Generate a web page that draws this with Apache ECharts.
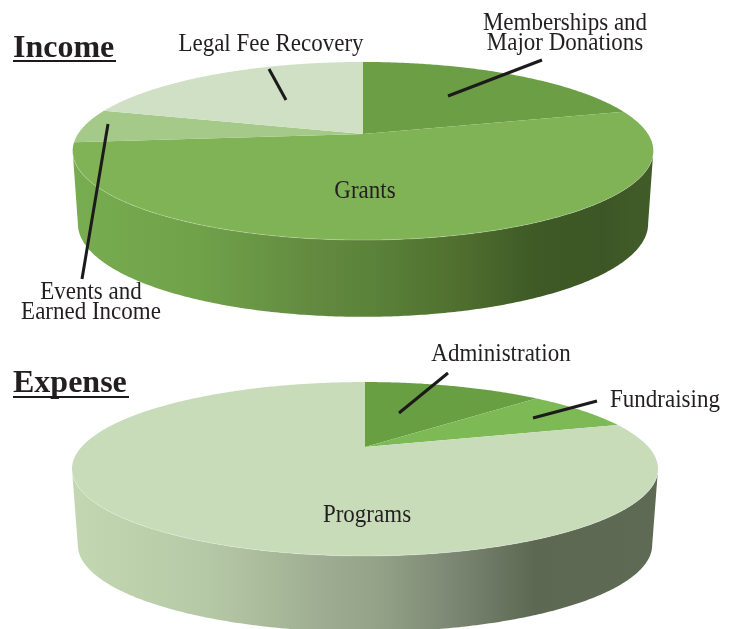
<!DOCTYPE html>
<html>
<head>
<meta charset="utf-8">
<title>Income and Expense</title>
<style>
  html, body { margin: 0; padding: 0; background: #fff; }
  #main { width: 738px; height: 629px; }
</style>
<script src="https://cdn.jsdelivr.net/npm/echarts@6/dist/echarts.min.js"></script>
</head>
<body>
<div id="main"></div>
<script>
// values in percent, clockwise from 12 o'clock
const incomeCategories = ['Memberships and Major Donations', 'Grants', 'Events and Earned Income', 'Legal Fee Recovery'];
const incomeValues = [20.6, 52.9, 6.1, 20.4];
const incomeColors = ['#6b9e45', '#80b355', '#a4c989', '#cfe0c4'];

const expenseCategories = ['Administration', 'Fundraising', 'Programs'];
const expenseValues = [12.6, 7.7, 79.7];
const expenseColors = ['#689f42', '#7dba55', '#c8dcba'];

const FONT = '"Liberation Serif", serif';
const INK = '#231f20';

// apex = where the slices meet, a/b/k = the perspective of the disc, wall* = how the rim hangs below it
const incomeDisc = {
  apex: [363, 134], a: 285, b: 85.8, k: 0.191, wallX: 0.982, wallY: 1.045, wallDrop: 72,
  wallStops: [[0, '#78ac50'], [0.22, '#6fa149'], [0.42, '#62893f'], [0.52, '#5a8239'], [0.66, '#50702f'], [0.8, '#3f5a26'], [0.92, '#3d5625'], [1, '#415c29']]
};
const expenseDisc = {
  apex: [365, 447], a: 283.5, b: 81.4, k: 0.253, wallX: 0.98, wallY: 1, wallDrop: 76,
  wallStops: [[0, '#c2d6b1'], [0.22, '#b6c9a6'], [0.42, '#9fae92'], [0.52, '#94a388'], [0.66, '#7b8672'], [0.8, '#5d6853'], [1, '#5f6a55']]
};

function discPoint(disc, angle, onWall) {
  const X = Math.sin(angle), Y = -Math.cos(angle);
  const d = 1 - disc.k * Y;
  const sx = disc.a * X / d, sy = disc.b * Y / d;
  if (onWall) {
    return [disc.apex[0] + sx * disc.wallX, disc.apex[1] + sy * disc.wallY + disc.wallDrop];
  }
  return [disc.apex[0] + sx, disc.apex[1] + sy];
}

function arc(disc, from, to, onWall) {
  const pts = [];
  const n = Math.max(2, Math.ceil((to - from) / 0.01));
  for (let i = 0; i <= n; i++) {
    pts.push(discPoint(disc, from + (to - from) * i / n, onWall));
  }
  return pts;
}

function sliceData(values) {
  const total = values.reduce((s, v) => s + v, 0);
  let run = 0;
  return values.map(v => {
    const start = run / total * Math.PI * 2;
    run += v;
    return [start, run / total * Math.PI * 2, v];
  });
}

function discSeries(name, values, colors, disc) {
  // the rim only shows between the two widest points of the ellipse
  const frontFrom = Math.PI - Math.acos(disc.k);
  const frontTo = Math.PI + Math.acos(disc.k);
  const wallFill = {
    type: 'linear', x: disc.apex[0] - disc.a, y: 0, x2: disc.apex[0] + disc.a, y2: 0, global: true,
    colorStops: disc.wallStops.map(s => ({ offset: s[0], color: s[1] }))
  };
  return {
    type: 'custom',
    name: name,
    coordinateSystem: 'none',
    silent: true,
    data: sliceData(values),
    renderItem: function (params, api) {
      const start = api.value(0), end = api.value(1);
      const children = [];
      const wFrom = Math.max(start, frontFrom), wTo = Math.min(end, frontTo);
      if (wTo > wFrom) {
        const top = arc(disc, wFrom, wTo, false);
        const bottom = arc(disc, wFrom, wTo, true).reverse();
        children.push({ type: 'polygon', shape: { points: top.concat(bottom) }, style: { fill: wallFill } });
      }
      children.push({
        type: 'polygon',
        shape: { points: [disc.apex].concat(arc(disc, start, end, false)) },
        style: { fill: colors[params.dataIndex] }
      });
      if (wTo > wFrom) {
        // faint light edge where the top meets the rim
        children.push({
          type: 'polyline',
          shape: { points: arc(disc, wFrom, wTo, false) },
          style: { stroke: 'rgba(255,255,255,0.22)', fill: 'none', lineWidth: 1 }
        });
      }
      return { type: 'group', children: children };
    }
  };
}

// Liberation Serif is wider than the original Garamond, so squeeze it a little
function text(str, x, y, size, extra) {
  return {
    type: 'text', z: 10, silent: true, x: x, y: y, scaleX: 0.92,
    style: Object.assign({
      text: str, x: 0, y: 0, fill: INK, font: size + 'px ' + FONT,
      align: 'center', verticalAlign: 'middle'
    }, extra || {})
  };
}

function title(str, x, y) {
  return {
    type: 'text', z: 10, silent: true, x: x, y: y,
    style: { text: str, fill: INK, font: 'bold 32px ' + FONT, align: 'left', verticalAlign: 'middle' }
  };
}

function line(x1, y1, x2, y2, width) {
  return {
    type: 'line', z: 10, silent: true,
    shape: { x1: x1, y1: y1, x2: x2, y2: y2 },
    style: { stroke: '#1c1a1b', lineWidth: width }
  };
}

const chart = echarts.init(document.getElementById('main'), null, { renderer: 'canvas' });

let option = {
  animation: false,
  backgroundColor: '#fff',
  series: [
    discSeries('Income', incomeValues, incomeColors, incomeDisc),
    discSeries('Expense', expenseValues, expenseColors, expenseDisc)
  ],
  graphic: [
    title('Income', 13, 49),
    line(13, 61, 116, 61, 2),
    title('Expense', 13, 384),
    line(13, 397, 129, 397, 2),

    text('Legal Fee Recovery', 271, 44, 25),
    text('Memberships and', 565, 23, 25),
    text('Major Donations', 565, 43, 25),
    text('Grants', 365, 191, 25),
    text('Events and', 91, 292, 25),
    text('Earned Income', 91, 312, 25),
    text('Administration', 501, 354, 25),
    text('Fundraising', 665, 400, 25),
    text('Programs', 367, 515, 25),

    line(269, 69, 286, 100, 3),
    line(542, 60, 448, 96, 3),
    line(108, 124, 82, 279, 3),
    line(448, 373, 399, 413, 3),
    line(597, 401, 533, 418, 3)
  ]
};
chart.setOption(option);
</script>
</body>
</html>
